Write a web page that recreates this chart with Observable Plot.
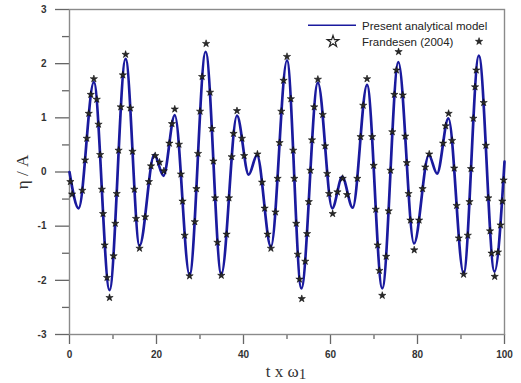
<!DOCTYPE html>
<html>
<head>
<meta charset="utf-8">
<script src="https://cdn.jsdelivr.net/npm/d3@7"></script>
<script src="https://cdn.jsdelivr.net/npm/@observablehq/plot@0.6"></script>
<style>
  html, body { margin: 0; padding: 0; background: #fff; }
  #chart svg { display: block; }
</style>
</head>
<body>
<div id="chart"></div>
<script>
// Present analytical model: extrema of the curve (t x ω1, η/A)
const lineT   = [0, 2.1, 5.6, 9.2, 12.9, 16.1, 19.5, 21.6, 24.2, 27.6, 31.3, 34.9, 38.5, 41.2, 43.1, 46.3, 50.0, 53.3, 57.1, 60.4, 62.7, 65.1, 68.4, 71.9, 75.6, 79.2, 82.6, 84.5, 87.1, 90.6, 94.1, 97.7, 100];
const lineEta = [0, -0.67, 1.66, -2.18, 2.09, -1.36, 0.32, -0.07, 1.05, -1.90, 2.22, -1.89, 1.04, -0.05, 0.31, -1.38, 2.06, -2.15, 1.65, -0.67, -0.09, -0.66, 1.61, -2.15, 2.03, -1.32, 0.31, -0.03, 0.99, -1.87, 2.15, -1.84, 0.19];

// Frandesen (2004) data points
const starT = [
  0.2, 0.6,
  2.96, 3.59, 3.97, 4.43, 4.89, 5.6,
  6.27, 6.67, 7.05, 7.44, 7.71, 8.08, 8.62, 9.2,
  10.13, 10.53, 10.85, 11.29, 11.78, 12.27, 12.9,
  13.99, 14.48, 14.91, 15.29, 16.1,
  17.4, 18.26, 18.74, 19.7,
  20.7, 21.7,
  22.96, 23.56, 24.2,
  25.16, 25.61, 25.99, 26.47, 27.6,
  28.8, 29.18, 29.55, 30.02, 30.49, 31.4,
  32.31, 32.74, 33.08, 33.47, 34.01, 34.9,
  36.11, 36.66, 37.28, 37.71, 38.5,
  39.65, 40.15,
  43.2,
  44.27, 44.86, 45.53, 46.3,
  47.35, 47.84, 48.29, 48.7, 49.21, 50.0,
  50.89, 51.43, 51.69, 52.12, 52.47, 52.87, 53.4,
  54.2, 54.61, 55.01, 55.38, 55.75, 56.26, 57.1,
  58.21, 58.76, 59.24, 59.67, 60.5,
  61.6, 62.8,
  63.8,
  66.17, 66.92, 67.52, 68.4,
  69.58, 69.92, 70.4, 70.83, 71.24, 71.9,
  72.8, 73.37, 73.8, 74.21, 74.68, 75.16, 75.65,
  76.61, 77.19, 77.53, 77.94, 78.38, 79.25,
  80.37, 81.17, 81.79, 82.7,
  85.88, 86.48, 87.15,
  87.96, 88.44, 88.99, 89.49, 90.6,
  91.56, 91.96, 92.3, 92.84, 93.23, 93.52, 94.15,
  95.21, 95.71, 96.27, 96.67, 97.03, 97.75,
  98.5, 99.1, 99.5, 99.8
];
const starEta = [
  -0.18, -0.41,
  -0.34, 0.22, 0.62, 1.08, 1.43, 1.72,
  1.34, 0.88, 0.32, -0.32, -0.77, -1.35, -1.95, -2.32,
  -1.55, -0.95, -0.40, 0.40, 1.20, 1.79, 2.17,
  1.18, 0.38, -0.32, -0.86, -1.41,
  -0.83, -0.18, 0.11, 0.30,
  0.18, 0.02,
  0.53, 0.89, 1.16,
  0.51, -0.04, -0.54, -1.17, -1.92,
  -0.92, -0.31, 0.34, 1.12, 1.76, 2.37,
  1.47, 0.80, 0.20, -0.48, -1.30, -1.91,
  -1.15, -0.48, 0.28, 0.71, 1.13,
  0.62, 0.30,
  0.33,
  -0.19, -0.67, -1.15, -1.41,
  -0.74, -0.12, 0.54, 1.12, 1.69, 2.13,
  1.35, 0.40, -0.12, -0.95, -1.52, -1.98, -2.34,
  -1.65, -1.14, -0.55, 0.03, 0.59, 1.20, 1.71,
  1.06, 0.48, -0.03, -0.40, -0.77,
  -0.37, -0.12,
  -0.42,
  -0.12, 0.65, 1.23, 1.72,
  0.65, 0.12, -0.69, -1.35, -1.82, -2.28,
  -1.56, -0.72, 0.03, 0.74, 1.43, 1.88, 2.22,
  1.42, 0.66, 0.17, -0.40, -0.89, -1.44,
  -0.89, -0.31, 0.09, 0.33,
  0.53, 0.85, 1.08,
  0.58, 0.07, -0.62, -1.22, -1.89,
  -1.17, -0.55, 0.06, 0.99, 1.57, 1.88, 2.41,
  1.28, 0.49, -0.48, -1.09, -1.50, -1.93,
  -1.48, -0.98, -0.54, -0.15
];

const xMajor = [0, 20, 40, 60, 80, 100];
const xMinor = [10, 30, 50, 70, 90];
const yMajor = [-3, -2, -1, 0, 1, 2, 3];
const yMinor = [-2.5, -1.5, -0.5, 0.5, 1.5, 2.5];
const seriesNames = ["Present analytical model", "Frandesen (2004)"];

const lineData = lineT.map((t, i) => ({t, eta: lineEta[i]}));
const starData = starT.map((t, i) => ({t, eta: starEta[i]}));

const tickFont = {fontFamily: "Liberation Sans, Arial, sans-serif", fontWeight: "bold", fontSize: 10};
const tickColor = "#666";

const chart = Plot.plot({
  width: 521,
  height: 383,
  marginLeft: 69,
  marginRight: 17,
  marginTop: 9,
  marginBottom: 49,
  x: {domain: [0, 100]},
  y: {domain: [-3, 3]},
  style: {background: "#fff", color: "#333", fontFamily: "Liberation Sans, Arial, sans-serif", fontSize: 10},
  marks: [
    Plot.axisX({ticks: xMajor, tickSize: 10, tickPadding: 6, tickFormat: d => String(d), label: null, stroke: tickColor, strokeWidth: 1.3, fill: "#333", ...tickFont}),
    Plot.axisX({ticks: xMinor, tickSize: 5, text: null, label: null, stroke: tickColor, strokeWidth: 1.3}),
    Plot.axisY({ticks: yMajor, tickSize: 14, tickPadding: 9, tickFormat: d => String(d), label: null, stroke: tickColor, strokeWidth: 1.3, fill: "#333", ...tickFont}),
    Plot.axisY({ticks: yMinor, tickSize: 7, text: null, label: null, stroke: tickColor, strokeWidth: 1.3}),
    Plot.frame({stroke: "#8a8a8a", strokeWidth: 1.4}),
    Plot.line(lineData, {x: "t", y: "eta", curve: "monotone-x", stroke: "#1a1a9e", strokeWidth: 2.7}),
    Plot.dot(starData, {x: "t", y: "eta", symbol: "star", r: 2.3, fill: "#2a2a2a", stroke: "#000", strokeWidth: 0.5})
  ]
});

document.getElementById("chart").appendChild(chart);

// Axis titles and legend
const svg = d3.select(chart);
svg.append("text")
  .attr("transform", "translate(28,172) rotate(-90)")
  .attr("text-anchor", "middle")
  .attr("font-family", "Liberation Serif, Times New Roman, serif")
  .attr("font-weight", "normal")
  .attr("font-size", 17)
  .attr("fill", "#333")
  .text("η / A");

const xl = svg.append("text")
  .attr("x", 286).attr("y", 377)
  .attr("text-anchor", "middle")
  .attr("font-family", "Liberation Serif, Times New Roman, serif")
  .attr("font-weight", "normal")
  .attr("font-size", 17)
  .attr("fill", "#333");
xl.append("tspan").text("t x ω");
xl.append("tspan").attr("dy", 2).attr("font-size", 15).text("1");

const lg = svg.append("g")
  .attr("font-family", "Liberation Sans, Arial, sans-serif")
  .attr("font-size", 11.5)
  .attr("font-weight", "normal")
  .attr("text-anchor", "start")
  .attr("fill", "#222");
lg.append("line").attr("x1", 308).attr("x2", 356).attr("y1", 25.3).attr("y2", 25.3)
  .attr("stroke", "#1a1a9e").attr("stroke-width", 1.6);
lg.append("text").attr("x", 362).attr("y", 29.5).text(seriesNames[0]);
lg.append("path")
  .attr("d", d3.symbol(d3.symbolStar, 42)())
  .attr("transform", "translate(333,41.5)")
  .attr("fill", "none").attr("stroke", "#222").attr("stroke-width", 1.2);
lg.append("text").attr("x", 362).attr("y", 45.5).text(seriesNames[1]);
</script>
</body>
</html>
